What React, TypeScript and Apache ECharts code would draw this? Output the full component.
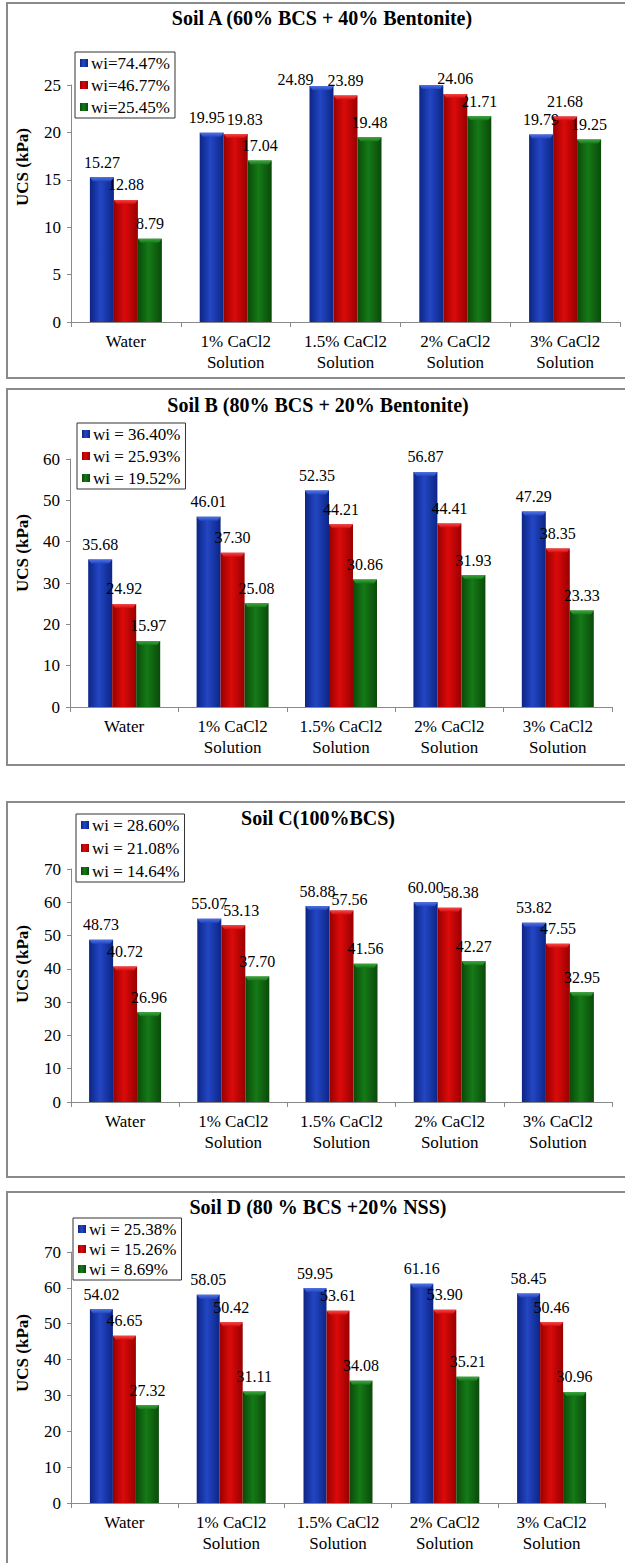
import React, { useEffect, useRef } from "react";
import * as echarts from "echarts";

// ---------- data ----------
const categories = [
  "Water",
  "1% CaCl2\nSolution",
  "1.5% CaCl2\nSolution",
  "2% CaCl2\nSolution",
  "3% CaCl2\nSolution",
];

const titleA = "Soil A (60% BCS + 40% Bentonite)";
const namesA = ["wi=74.47%", "wi=46.77%", "wi=25.45%"];
const soilA_high = [15.27, 19.95, 24.89, 25.0, 19.79];
const soilA_mid = [12.88, 19.83, 23.89, 24.06, 21.68];
const soilA_low = [8.79, 17.04, 19.48, 21.71, 19.25];
const soilA_hiddenLabel = [3]; // label not shown in reference (blue, 2% CaCl2)
const ticksA = { max: 25, interval: 5 };

const titleB = "Soil B (80% BCS + 20% Bentonite)";
const namesB = ["wi = 36.40%", "wi = 25.93%", "wi = 19.52%"];
const soilB_high = [35.68, 46.01, 52.35, 56.87, 47.29];
const soilB_mid = [24.92, 37.3, 44.21, 44.41, 38.35];
const soilB_low = [15.97, 25.08, 30.86, 31.93, 23.33];
const ticksB = { max: 60, interval: 10 };

const titleC = "Soil C(100%BCS)";
const namesC = ["wi = 28.60%", "wi = 21.08%", "wi = 14.64%"];
const soilC_high = [48.73, 55.07, 58.88, 60.0, 53.82];
const soilC_mid = [40.72, 53.13, 57.56, 58.38, 47.55];
const soilC_low = [26.96, 37.7, 41.56, 42.27, 32.95];
const ticksC = { max: 70, interval: 10 };

const titleD = "Soil D (80 % BCS +20% NSS)";
const namesD = ["wi = 25.38%", "wi = 15.26%", "wi = 8.69%"];
const soilD_high = [54.02, 58.05, 59.95, 61.16, 58.45];
const soilD_mid = [46.65, 50.42, 53.61, 53.9, 50.46];
const soilD_low = [27.32, 31.11, 34.08, 35.21, 30.96];
const ticksD = { max: 70, interval: 10 };

const yAxisName = "UCS (kPa)";

// ---------- layout / style ----------
const FONT = "Liberation Serif";

const panels = [
  {
    title: titleA, names: namesA, series: [soilA_high, soilA_mid, soilA_low], hidden: [soilA_hiddenLabel, [], []], ticks: ticksA,
    box: { y: 3, h: 375 }, titlePos: [322, 18], grid: { left: 71, right: 5, top: 85, height: 237 },
    legend: { left: 75, top: 52, gap: 4 }, yName: [22, 167], barWidth: 24,
  },
  {
    title: titleB, names: namesB, series: [soilB_high, soilB_mid, soilB_low], hidden: [[], [], []], ticks: ticksB,
    box: { y: 389, h: 376 }, titlePos: [318, 405], grid: { left: 70, right: 13, top: 459, height: 248 },
    legend: { left: 77, top: 423, gap: 4 }, yName: [22, 553], barWidth: 24,
  },
  {
    title: titleC, names: namesC, series: [soilC_high, soilC_mid, soilC_low], hidden: [[], [], []], ticks: ticksC,
    box: { y: 802, h: 375 }, titlePos: [318, 818], grid: { left: 71, right: 13, top: 869, height: 233 },
    legend: { left: 76, top: 814, gap: 5 }, yName: [22, 964], barWidth: 24,
  },
  {
    title: titleD, names: namesD, series: [soilD_high, soilD_mid, soilD_low], hidden: [[], [], []], ticks: ticksD,
    box: { y: 1192, h: 400 }, titlePos: [318, 1207], grid: { left: 71, right: 20, top: 1252, height: 251 },
    legend: { left: 73, top: 1218, gap: 2 }, yName: [22, 1353], barWidth: 23,
  },
];

// label nudges (panel-series-category) as placed in the reference
const labelOffsets: Record<string, number[]> = {
  "0-0-1": [-5, 0],
  "0-1-1": [9, 0],
  "0-0-2": [-26, 8],
  "2-1-1": [8, 0],
  "2-1-2": [8, 4],
  "2-1-3": [11, 0],
};

const palette = [
  { edge: "#0c2585", mid: "#2346c4", cap: "#4f72e0" },
  { edge: "#980000", mid: "#dc0a0a", cap: "#f04848" },
  { edge: "#0a4a0a", mid: "#157a17", cap: "#3da53f" },
];

const grad = (edge: string, mid: string) =>
  new echarts.graphic.LinearGradient(0, 0, 1, 0, [
    { offset: 0, color: edge },
    { offset: 0.45, color: mid },
    { offset: 1, color: edge },
  ]);

function buildOption() {
  const grid: any[] = [];
  const xAxis: any[] = [];
  const yAxis: any[] = [];
  const legend: any[] = [];
  const series: any[] = [];
  const graphic: any[] = [];

  panels.forEach((p, gi) => {
    graphic.push({
      type: "rect",
      z: -10,
      shape: { x: 7, y: p.box.y, width: 660, height: p.box.h },
      style: { fill: "#fff", stroke: "#8a8a8a", lineWidth: 2 },
    });
    graphic.push({
      type: "text",
      x: p.titlePos[0],
      y: p.titlePos[1],
      style: {
        text: p.title,
        fontFamily: FONT,
        fontSize: 20,
        fontWeight: "bold",
        fill: "#000",
        align: "center",
        verticalAlign: "middle",
      },
    });
    graphic.push({
      type: "text",
      x: p.yName[0],
      y: p.yName[1],
      rotation: Math.PI / 2,
      style: {
        text: yAxisName,
        fontFamily: FONT,
        fontSize: 17,
        fontWeight: "bold",
        fill: "#000",
        align: "center",
        verticalAlign: "middle",
      },
    });

    grid.push({ left: p.grid.left, right: p.grid.right, top: p.grid.top, height: p.grid.height, containLabel: false });
    xAxis.push({
      type: "category",
      gridIndex: gi,
      data: categories,
      axisLine: { lineStyle: { color: "#8a8a8a", width: 1 } },
      axisTick: { show: true, alignWithLabel: false, length: 5, lineStyle: { color: "#8a8a8a" } },
      axisLabel: { color: "#000", fontFamily: FONT, fontSize: 17, lineHeight: 21, margin: 9, interval: 0 },
    });
    yAxis.push({
      type: "value",
      gridIndex: gi,
      min: 0,
      max: p.ticks.max,
      interval: p.ticks.interval,
      axisLine: { show: true, lineStyle: { color: "#8a8a8a", width: 1 } },
      axisTick: { show: true, length: 4, lineStyle: { color: "#8a8a8a" } },
      splitLine: { show: false },
      axisLabel: { color: "#000", fontFamily: FONT, fontSize: 17, margin: 10 },
    });
    legend.push({
      data: p.names,
      orient: "vertical",
      left: p.legend.left,
      top: p.legend.top,
      itemWidth: 8,
      itemHeight: 8,
      itemGap: p.legend.gap,
      icon: "rect",
      padding: [2, 5, 2, 5],
      borderColor: "#333",
      borderWidth: 1,
      backgroundColor: "#fff",
      textStyle: { color: "#000", fontFamily: FONT, fontSize: 17, lineHeight: 18, padding: [0, 0, 0, -2] },
      selectedMode: false,
    });
    p.series.forEach((vals, si) => {
      const hidden = p.hidden[si];
      const col = palette[si];
      series.push({
        type: "bar",
        name: p.names[si],
        xAxisIndex: gi,
        yAxisIndex: gi,
        barWidth: p.barWidth,
        barGap: "0%",
        data: vals.map((v, i) => {
          if (hidden.includes(i)) return { value: v, label: { show: false } };
          const off = labelOffsets[`${gi}-${si}-${i}`];
          return off ? { value: v, label: { offset: off } } : v;
        }),
        itemStyle: { color: grad(col.edge, col.mid) },
        label: {
          show: true,
          position: "top",
          distance: 7,
          color: "#000",
          fontFamily: FONT,
          fontSize: 16,
          formatter: (d: any) => Number(d.value).toFixed(2),
        },
      });
      // bevelled top cap of each bar, placed through the same axes
      const bw = p.barWidth;
      series.push({
        type: "custom",
        name: p.names[si] + " cap",
        xAxisIndex: gi,
        yAxisIndex: gi,
        z: 3,
        silent: true,
        data: vals.map((v, i) => [i, v]),
        renderItem: (_params: any, api: any) => {
          const c = api.coord([api.value(0), api.value(1)]);
          const x0 = c[0] + (si - 1) * bw - bw / 2;
          const y = c[1];
          return {
            type: "polygon",
            shape: {
              points: [
                [x0, y],
                [x0 + bw, y],
                [x0 + bw - 3, y + 4],
                [x0 + 3, y + 4],
              ],
            },
            style: {
              fill: new echarts.graphic.LinearGradient(0, 0, 0, 1, [
                { offset: 0, color: col.cap },
                { offset: 1, color: col.mid },
              ]),
            },
          };
        },
      });
    });
  });

  return {
    animation: false,
    backgroundColor: "#fff",
    textStyle: { fontFamily: FONT },
    grid,
    xAxis,
    yAxis,
    legend,
    series,
    graphic,
  };
}

export default function App() {
  const ref = useRef<HTMLDivElement>(null);
  useEffect(() => {
    if (!ref.current) return;
    const chart = echarts.init(ref.current, undefined, { renderer: "svg" });
    chart.setOption(buildOption() as any);
    return () => chart.dispose();
  }, []);
  return (
    <div
      ref={ref}
      style={{ position: "absolute", left: 0, top: 0, width: 625, height: 1563, background: "#fff" }}
    />
  );
}
